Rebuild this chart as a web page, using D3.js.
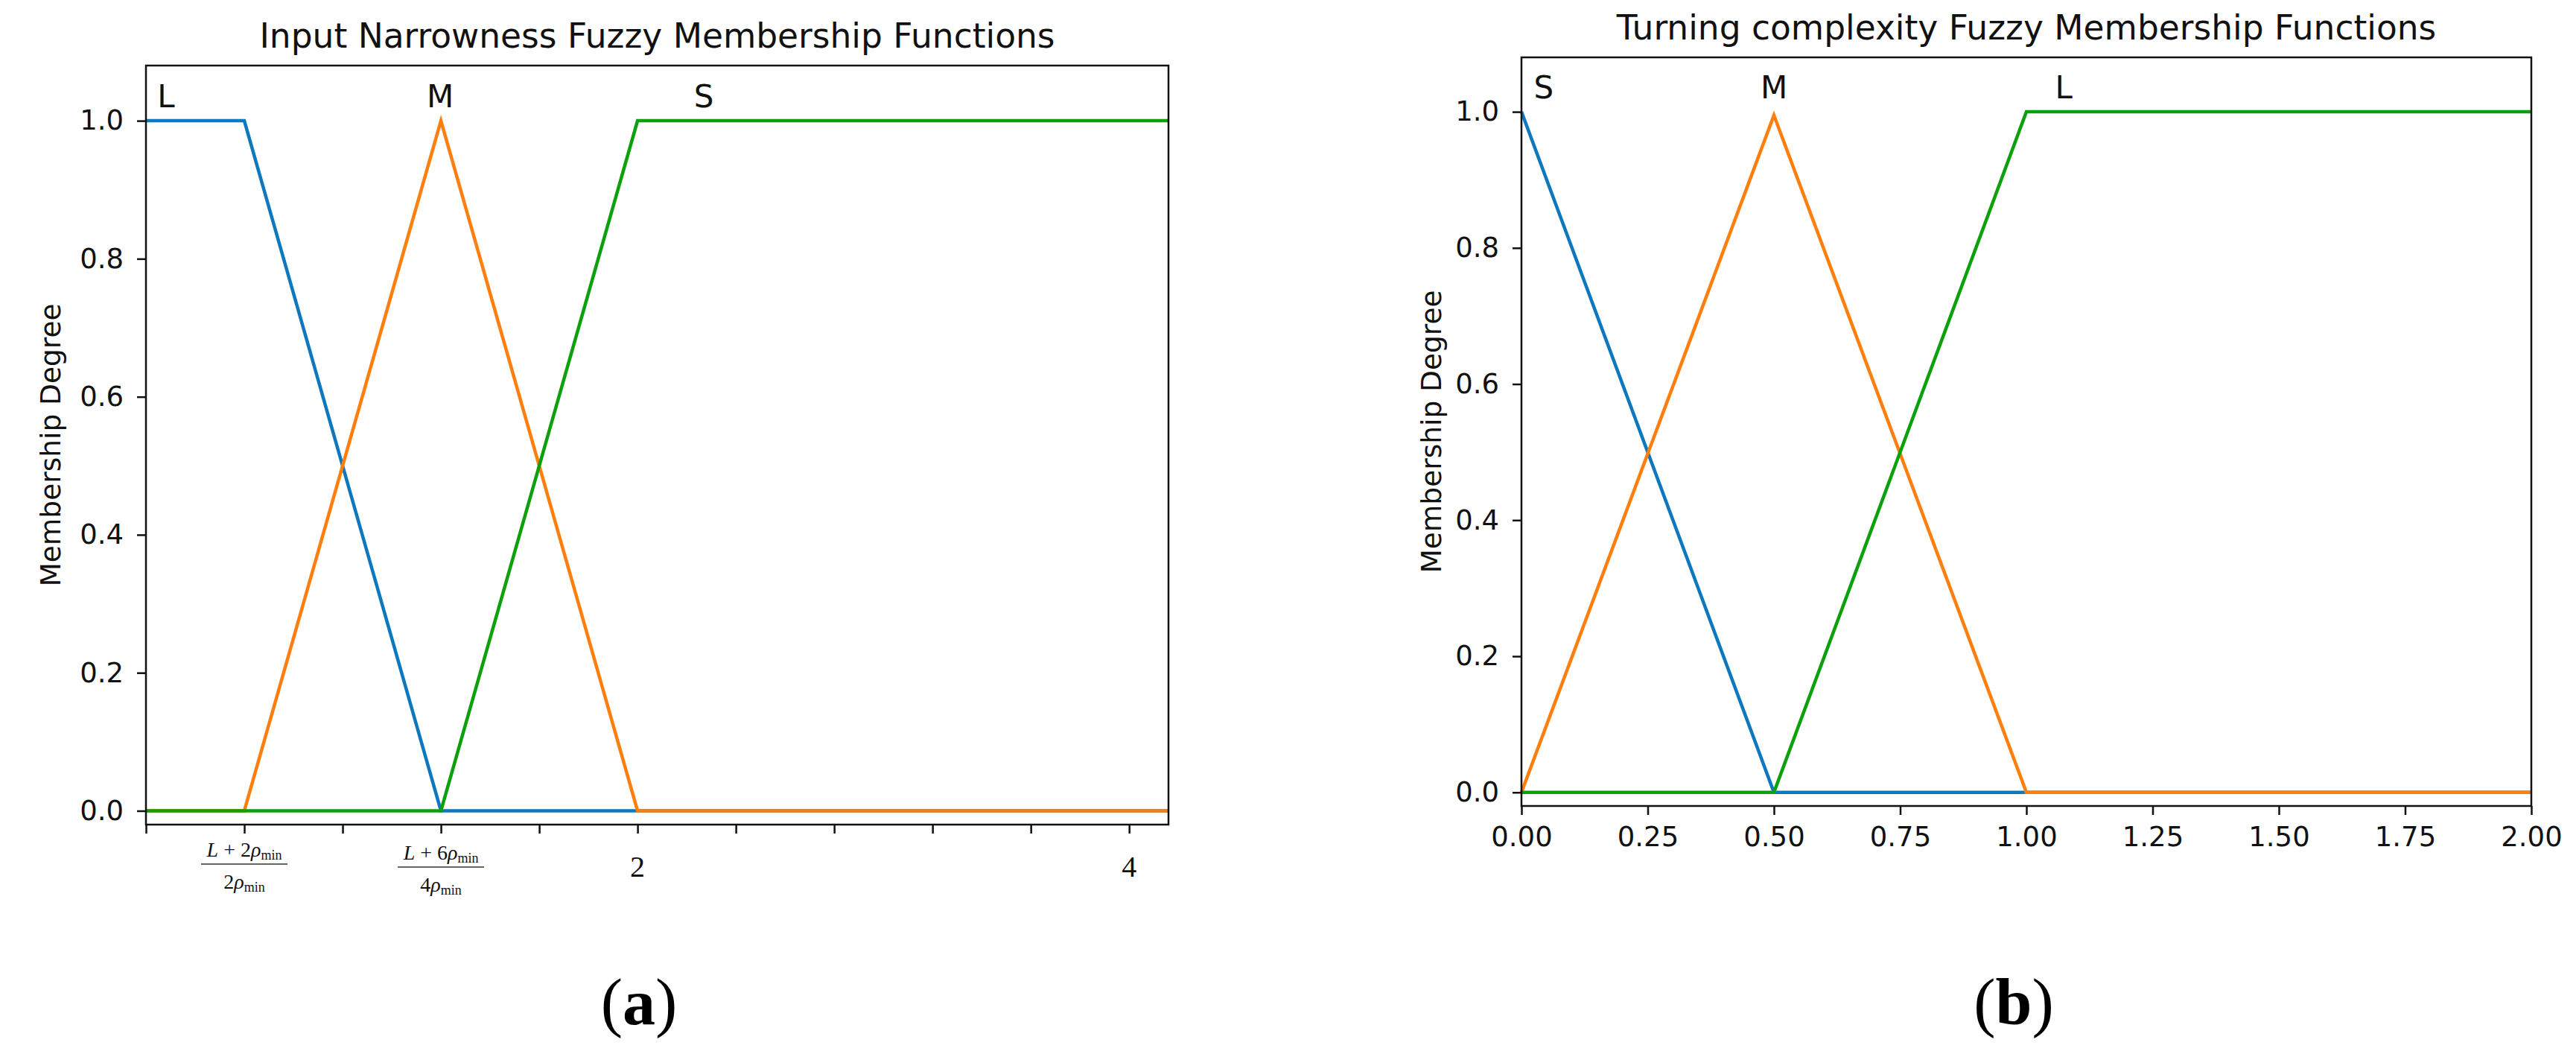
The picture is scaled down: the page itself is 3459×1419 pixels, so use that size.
<!DOCTYPE html>
<html>
<head>
<meta charset="utf-8">
<script src="https://cdn.jsdelivr.net/npm/d3@7"></script>
<style>
  html, body { margin: 0; padding: 0; background: #fff; }
  svg { display: block; }
</style>
</head>
<body>
<svg id="chart" width="3459" height="1419"></svg>
<script>
// ---------------- DATA ----------------
// Panel (a): Input Narrowness
const titleA = "Input Narrowness Fuzzy Membership Functions";
const aXDomain = [0, 4.16];
const aTicks = [0, 0.4, 0.8, 1.2, 1.6, 2.0, 2.4, 2.8, 3.2, 3.6, 4.0];
const aPlainTickLabels = [{ x: 2.0, text: "2" }, { x: 4.0, text: "4" }];
const aFracTickLabels = [
  { x: 0.4, numCoef: "2", denCoef: "2" },
  { x: 1.2, numCoef: "6", denCoef: "4" }
];
const aSeriesNames = ["L", "M", "S"];
const aL_x = [0, 0.4, 1.2, 4.16], aL_y = [1, 1, 0, 0];
const aM_x = [0, 0.4, 1.2, 2.0, 4.16], aM_y = [0, 0, 1, 0, 0];
const aS_x = [0, 1.2, 2.0, 4.16], aS_y = [0, 0, 1, 1];
const aLabelX = [0.082, 1.197, 2.27];

// Panel (b): Turning complexity
const titleB = "Turning complexity Fuzzy Membership Functions";
const bXDomain = [0, 2];
const bTicks = [0, 0.25, 0.5, 0.75, 1.0, 1.25, 1.5, 1.75, 2.0];
const bSeriesNames = ["S", "M", "L"];
const bS_x = [0, 0.5, 2.0], bS_y = [1, 0, 0];
const bM_x = [0, 0.5, 1.0, 2.0], bM_y = [0, 0.995, 0, 0];
const bL_x = [0, 0.5, 1.0, 2.0], bL_y = [0, 0, 1, 1];
const bLabelX = [0.044, 0.5, 1.074];

const yDomain = [-0.02, 1.08];
const yTicks = [0, 0.2, 0.4, 0.6, 0.8, 1.0];
const yLabel = "Membership Degree";
const labelY = 1.02;
const panelLabels = ["a", "b"];

// ---------------- STYLE ----------------
const colors = ["#0e78be", "#ff7f0e", "#0ca00c"];
const sans = "'DejaVu Sans', sans-serif";
const serif = "'Liberation Serif', 'Times New Roman', serif";

const svg = d3.select("#chart");

function panel(cfg) {
  const x = d3.scaleLinear().domain(cfg.xDomain).range([cfg.left, cfg.right]);
  const y = d3.scaleLinear().domain(yDomain).range([cfg.bottom, cfg.top]);
  const g = svg.append("g");

  // series
  const line = d3.line().x(d => x(d[0])).y(d => y(d[1]));
  cfg.series.forEach((s, i) => {
    g.append("path")
      .datum(d3.zip(s[0], s[1]))
      .attr("d", line)
      .attr("fill", "none")
      .attr("stroke", colors[i])
      .attr("stroke-width", 4.5)
      .attr("stroke-linejoin", "miter");
  });

  // frame
  g.append("rect")
    .attr("x", cfg.left).attr("y", cfg.top)
    .attr("width", cfg.right - cfg.left).attr("height", cfg.bottom - cfg.top)
    .attr("fill", "none").attr("stroke", "#111").attr("stroke-width", 2.5);

  // y axis
  const ya = g.append("g").attr("transform", `translate(${cfg.left},0)`)
    .call(d3.axisLeft(y).tickValues(yTicks).tickFormat(d3.format(".1f")).tickSize(12).tickPadding(18));
  ya.select(".domain").remove();
  ya.selectAll("line").attr("stroke", "#111").attr("stroke-width", 2.5);
  ya.selectAll("text").attr("font-family", sans).attr("font-size", 37).attr("fill", "#111");

  // x axis
  const xa = g.append("g").attr("transform", `translate(0,${cfg.bottom})`)
    .call(d3.axisBottom(x).tickValues(cfg.xTicks)
      .tickFormat(cfg.xFormat || (() => "")).tickSize(12).tickPadding(16));
  xa.select(".domain").remove();
  xa.selectAll("line").attr("stroke", "#111").attr("stroke-width", 2.5);
  xa.selectAll("text").attr("font-family", sans).attr("font-size", 37).attr("fill", "#111");

  // title
  g.append("text")
    .attr("x", (cfg.left + cfg.right) / 2).attr("y", cfg.top - 24)
    .attr("text-anchor", "middle").attr("font-family", sans).attr("font-size", 45.5)
    .attr("fill", "#111").text(cfg.title);

  // y label
  g.append("text")
    .attr("transform", `translate(${cfg.left - cfg.yLabelOffset},${(cfg.top + cfg.bottom) / 2}) rotate(-90)`)
    .attr("text-anchor", "middle").attr("dominant-baseline", "central")
    .attr("font-family", sans).attr("font-size", 37.5).attr("fill", "#111")
    .text(yLabel);

  // series labels
  cfg.names.forEach((n, i) => {
    g.append("text")
      .attr("x", x(cfg.labelX[i])).attr("y", y(labelY))
      .attr("text-anchor", "middle").attr("font-family", sans).attr("font-size", 42)
      .attr("fill", "#111").text(n);
  });

  // panel label
  const pl = g.append("text")
    .attr("x", cfg.panelX).attr("y", 1375)
    .attr("text-anchor", "middle").attr("font-family", serif).attr("font-size", 88)
    .attr("fill", "#000");
  pl.append("tspan").text("(");
  pl.append("tspan").attr("font-weight", "bold").text(cfg.panelLabel);
  pl.append("tspan").text(")");

  return { x, y, g };
}

// Panel (a)
const pa = panel({
  left: 196, right: 1569, top: 88, bottom: 1107,
  xDomain: aXDomain, xTicks: aTicks, title: titleA, yLabelOffset: 128,
  series: [[aL_x, aL_y], [aM_x, aM_y], [aS_x, aS_y]],
  names: aSeriesNames, labelX: aLabelX, panelX: 858, panelLabel: panelLabels[0]
});

// Serif plain tick labels for (a)
aPlainTickLabels.forEach(d => {
  pa.g.append("text")
    .attr("x", pa.x(d.x)).attr("y", 1177)
    .attr("text-anchor", "middle").attr("font-family", serif).attr("font-size", 40)
    .attr("fill", "#111").text(d.text);
});

// Fraction tick labels for (a)
aFracTickLabels.forEach((d, i) => {
  const cx = pa.x(d.x);
  const off = i * 4;
  const num = pa.g.append("text")
    .attr("x", cx).attr("y", 1150 + off)
    .attr("text-anchor", "middle").attr("font-family", serif).attr("font-size", 28).attr("fill", "#111");
  num.append("tspan").attr("font-style", "italic").text("L");
  num.append("tspan").text(" + " + d.numCoef);
  num.append("tspan").attr("font-style", "italic").text("ρ");
  num.append("tspan").attr("font-size", 18).attr("dy", 4).text("min");
  pa.g.append("line")
    .attr("x1", cx - 58).attr("x2", cx + 58)
    .attr("y1", 1160 + off).attr("y2", 1160 + off)
    .attr("stroke", "#666").attr("stroke-width", 2);
  const den = pa.g.append("text")
    .attr("x", cx).attr("y", 1193 + off)
    .attr("text-anchor", "middle").attr("font-family", serif).attr("font-size", 28).attr("fill", "#111");
  den.append("tspan").text(d.denCoef);
  den.append("tspan").attr("font-style", "italic").text("ρ");
  den.append("tspan").attr("font-size", 18).attr("dy", 4).text("min");
});

// Panel (b)
panel({
  left: 2043, right: 3399, top: 77, bottom: 1082,
  xDomain: bXDomain, xTicks: bTicks, xFormat: d3.format(".2f"), title: titleB, yLabelOffset: 121,
  series: [[bS_x, bS_y], [bM_x, bM_y], [bL_x, bL_y]],
  names: bSeriesNames, labelX: bLabelX, panelX: 2704, panelLabel: panelLabels[1]
});
</script>
</body>
</html>
